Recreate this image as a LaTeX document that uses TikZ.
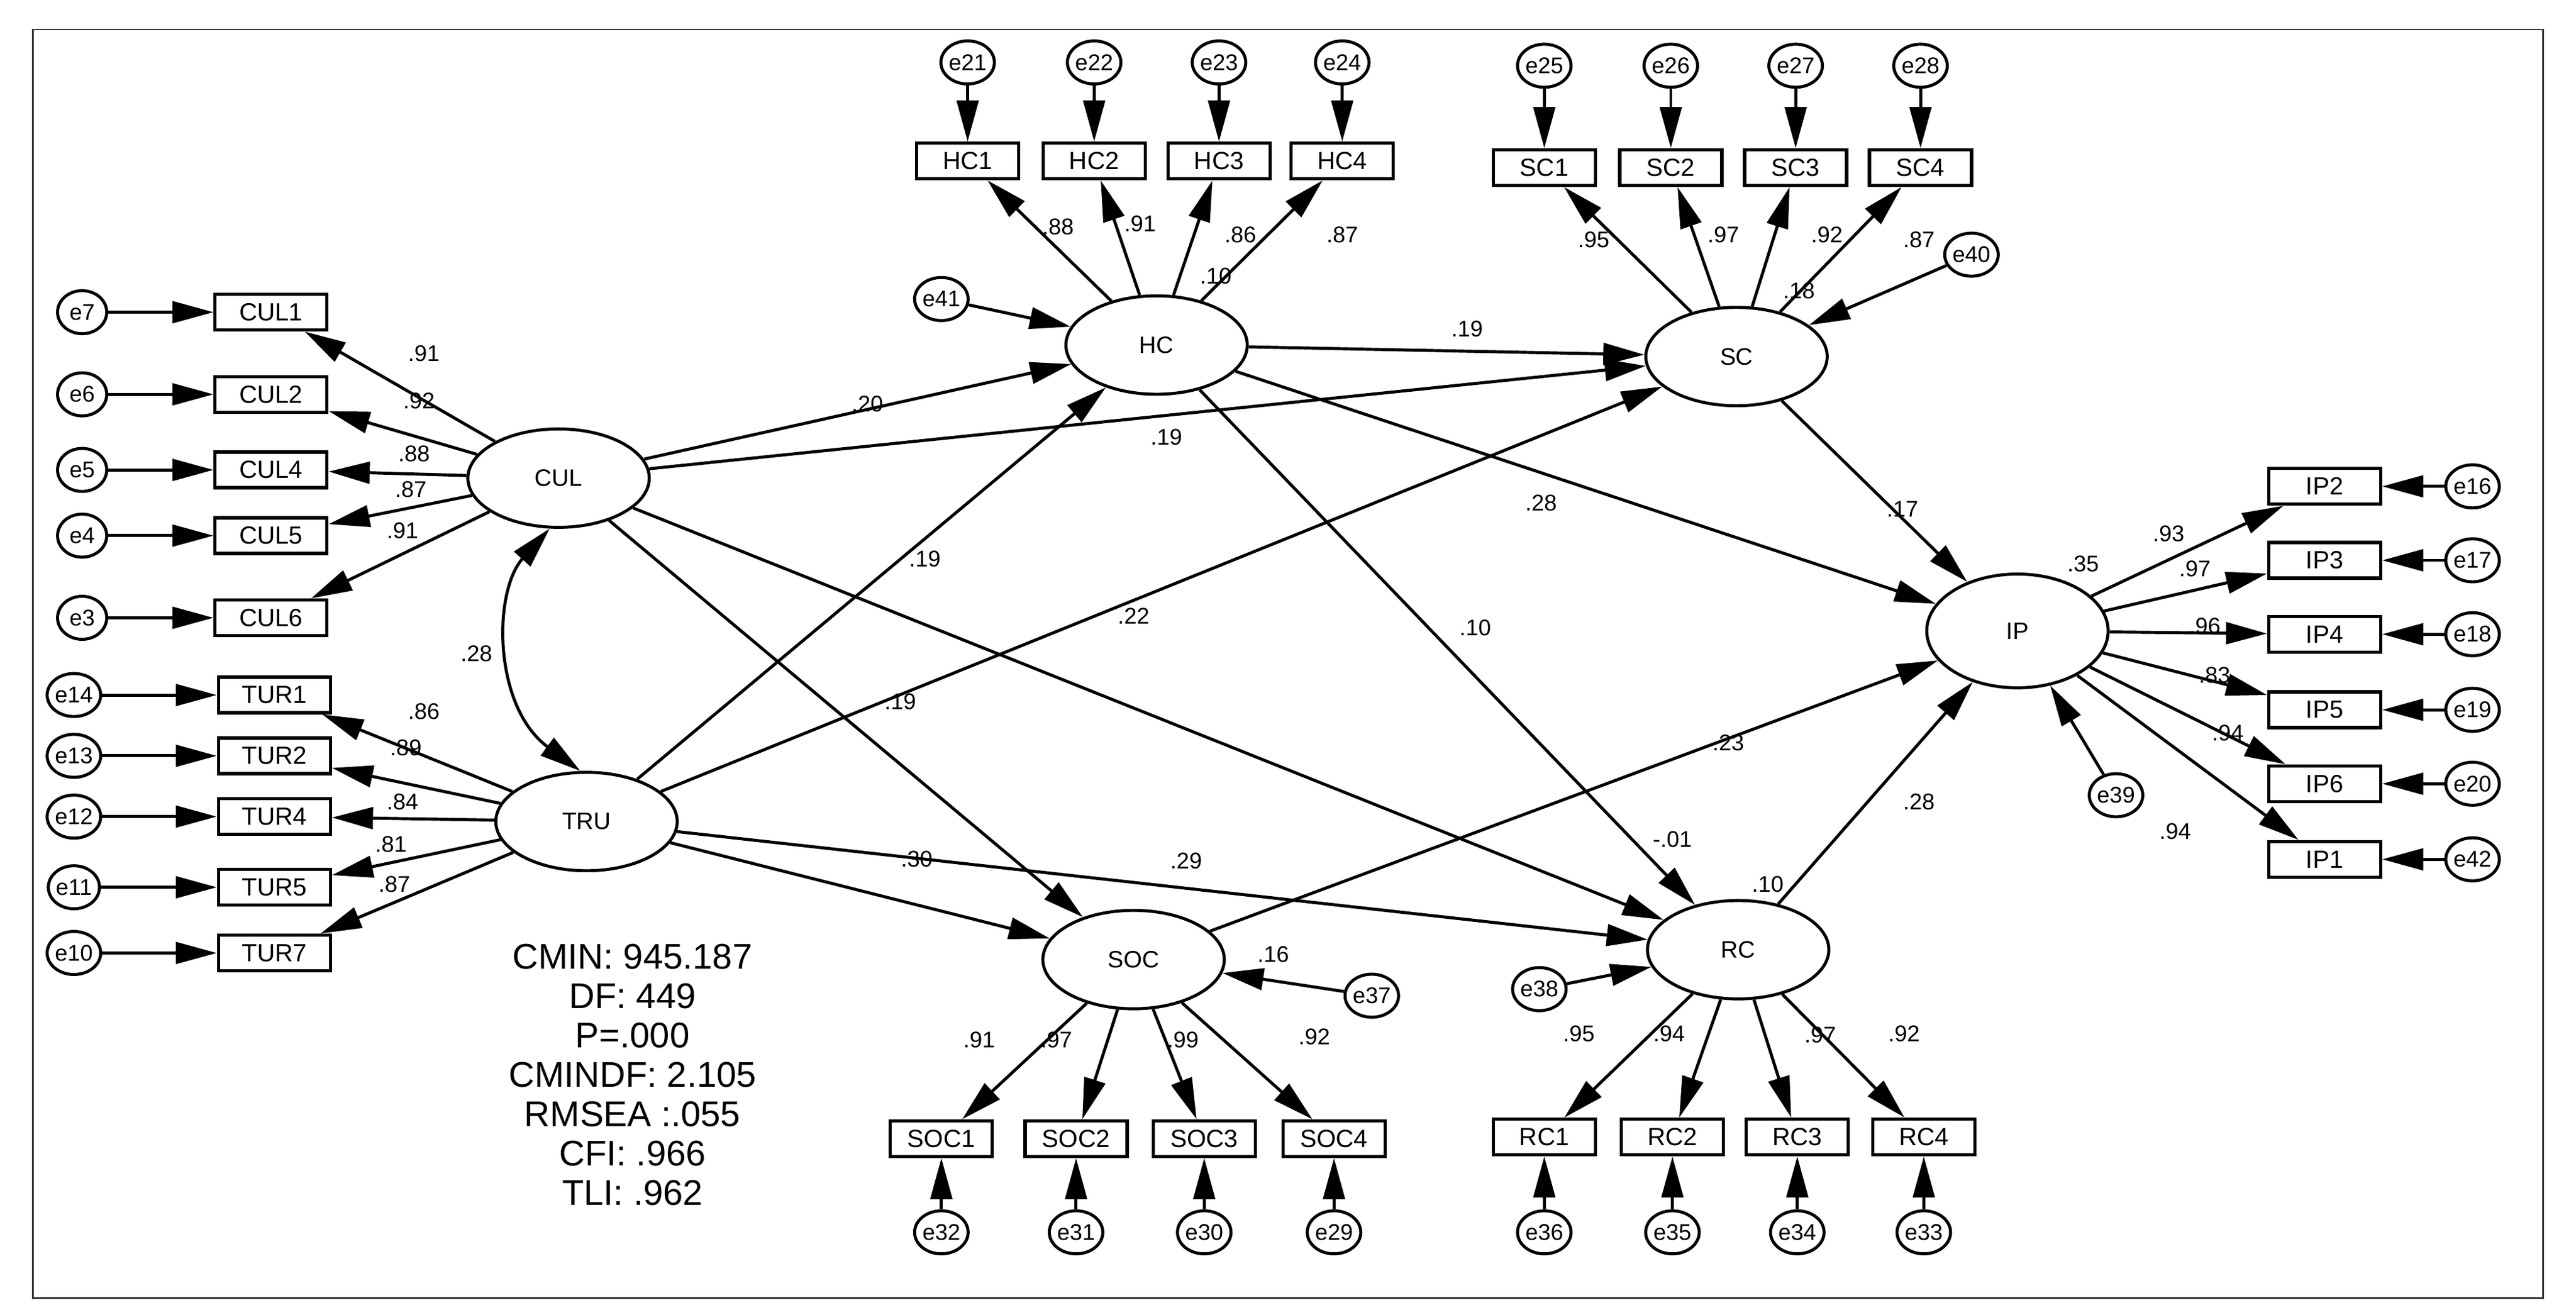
\documentclass[tikz,border=0pt]{standalone}
\usepackage{fontspec}
\setmainfont{Liberation Sans}
\usetikzlibrary{shapes.geometric,arrows.meta}
\begin{document}
\begin{tikzpicture}[x=0.026712cm,y=-0.026712cm,
 lat/.style={ellipse,draw,line width=1.4pt,minimum width=2.95cm,minimum height=1.6cm,inner sep=0pt,font=\fontsize{11}{13}\selectfont},
 ind/.style={rectangle,draw,line width=1.5pt,minimum width=1.82cm,minimum height=0.58cm,inner sep=0pt,font=\fontsize{11.5}{13}\selectfont},
 inds/.style={ind,minimum width=1.66cm},
 err/.style={ellipse,draw,line width=1.4pt,minimum width=0.8cm,minimum height=0.7cm,inner sep=0pt,font=\fontsize{10.5}{12}\selectfont},
 arr/.style={line width=1.4pt,-{Triangle[length=19pt,width=10pt]}},
 lab/.style={font=\fontsize{10.5}{12}\selectfont,inner sep=1pt}]
\useasboundingbox (0,0) rectangle (1568,797);
\draw[black!80,line width=0.8pt] (20,18) rectangle (1548,790);
% latent
\node[lat] (CUL) at (340,291) {CUL};
\node[lat] (TRU) at (357,500) {TRU};
\node[lat] (HC) at (704,210) {HC};
\node[lat] (SC) at (1057,217) {SC};
\node[lat,minimum height=1.85cm] (IP) at (1228,384) {IP};
\node[lat] (RC) at (1058,578) {RC};
\node[lat] (SOC) at (690,584) {SOC};
% CUL indicators
\foreach \n/\e/\y in {CUL1/e7/190,CUL2/e6/240,CUL4/e5/286,CUL5/e4/326,CUL6/e3/376}{
 \node[ind] (\n) at (165,\y) {\n};
 \node[err] (\e) at (50,\y) {\e};
 \draw[arr] (\e) -- (\n);
 \draw[arr] (CUL) -- (\n);}
\foreach \n/\e/\y in {TUR1/e14/423,TUR2/e13/460,TUR4/e12/497,TUR5/e11/540,TUR7/e10/580}{
 \node[ind] (\n) at (167,\y) {\n};
 \node[err] (\e) at (45,\y) {\e};
 \draw[arr] (\e) -- (\n);
 \draw[arr] (TRU) -- (\n);}
% HC indicators
\foreach \n/\e/\x in {HC1/e21/589,HC2/e22/666,HC3/e23/742,HC4/e24/817}{
 \node[inds] (\n) at (\x,98) {\n};
 \node[err] (\e) at (\x,38) {\e};
 \draw[arr] (\e) -- (\n);
 \draw[arr] (HC) -- (\n);}
\foreach \n/\e/\x in {SC1/e25/940,SC2/e26/1017,SC3/e27/1093,SC4/e28/1169}{
 \node[inds] (\n) at (\x,102) {\n};
 \node[err] (\e) at (\x,40) {\e};
 \draw[arr] (\e) -- (\n);
 \draw[arr] (SC) -- (\n);}
\foreach \n/\e/\y in {IP2/e16/296,IP3/e17/341,IP4/e18/386,IP5/e19/432,IP6/e20/477,IP1/e42/523}{
 \node[ind] (\n) at (1415,\y) {\n};
 \node[err] (\e) at (1505,\y) {\e};
 \draw[arr] (\e) -- (\n);
 \draw[arr] (IP) -- (\n);}
\foreach \n/\e/\x in {SOC1/e32/573,SOC2/e31/655,SOC3/e30/733,SOC4/e29/812}{
 \node[inds] (\n) at (\x,693) {\n};
 \node[err] (\e) at (\x,750) {\e};
 \draw[arr] (\e) -- (\n);
 \draw[arr] (SOC) -- (\n);}
\foreach \n/\e/\x in {RC1/e36/940,RC2/e35/1018,RC3/e34/1094,RC4/e33/1171}{
 \node[inds] (\n) at (\x,692) {\n};
 \node[err] (\e) at (\x,750) {\e};
 \draw[arr] (\e) -- (\n);
 \draw[arr] (RC) -- (\n);}
% disturbances
\node[err] (e41) at (573,182) {e41}; \draw[arr] (e41) -- (HC);
\node[err] (e40) at (1200,155) {e40}; \draw[arr] (e40) -- (SC);
\node[err] (e39) at (1288,484) {e39}; \draw[arr] (e39) -- (IP);
\node[err] (e37) at (835,606) {e37}; \draw[arr] (e37) -- (SOC);
\node[err] (e38) at (937,602) {e38}; \draw[arr] (e38) -- (RC);
% structural paths
\draw[arr] (CUL) -- (HC);
\draw[arr] (CUL) -- (SC);
\draw[arr] (CUL) -- (SOC);
\draw[arr] (CUL) -- (RC);
\draw[arr] (TRU) -- (HC);
\draw[arr] (TRU) -- (SC);
\draw[arr] (TRU) -- (SOC);
\draw[arr] (TRU) -- (RC);
\draw[arr] (HC) -- (SC);
\draw[arr] (HC) -- (IP);
\draw[arr] (HC) -- (RC);
\draw[arr] (SC) -- (IP);
\draw[arr] (SOC) -- (IP);
\draw[arr] (RC) -- (IP);
\draw[line width=1.4pt,{Triangle[length=19pt,width=10pt]}-{Triangle[length=19pt,width=10pt]}] (CUL.-100) .. controls (300,360) and (300,430) .. (TRU.97);
% labels
\foreach \t/\x/\y in {.91/258/215,.92/255/244,.88/252/276,.87/250/298,.91/245/323,
 .86/258/433,.89/247/455,.84/245/488,.81/238/514,.87/240/538,.28/290/398,
 .20/528/246,.19/710/266,.19/563/340,.22/690/375,.19/548/427,-.01/1018/511,.29/722/524,.30/558/523,
 .19/893/200,.28/938/306,.10/898/382,.17/1158/310,.23/1052/452,.28/1168/488,
 .10/740/168,.18/1095/177,.35/1268/343,.16/775/581,.10/1076/538,
 .88/644/138,.91/694/136,.86/755/143,.87/817/143,
 .95/970/146,.97/1049/143,.92/1112/143,.87/1168/146,
 .93/1320/325,.97/1336/346,.96/1342/381,.83/1348/411,.94/1356/446,.94/1324/506,
 .91/596/633,.97/643/633,.99/720/633,.92/800/631,
 .95/961/629,.94/1016/629,.97/1108/630,.92/1159/629}
 \node[lab] at (\x,\y) {\t};
\node[align=center,font=\fontsize{16.5}{18.2}\selectfont] (stats) at (385,654) {CMIN: 945.187\\DF: 449\\P=.000\\CMINDF: 2.105\\RMSEA :.055\\CFI: .966\\TLI: .962};
\end{tikzpicture}
\end{document}
